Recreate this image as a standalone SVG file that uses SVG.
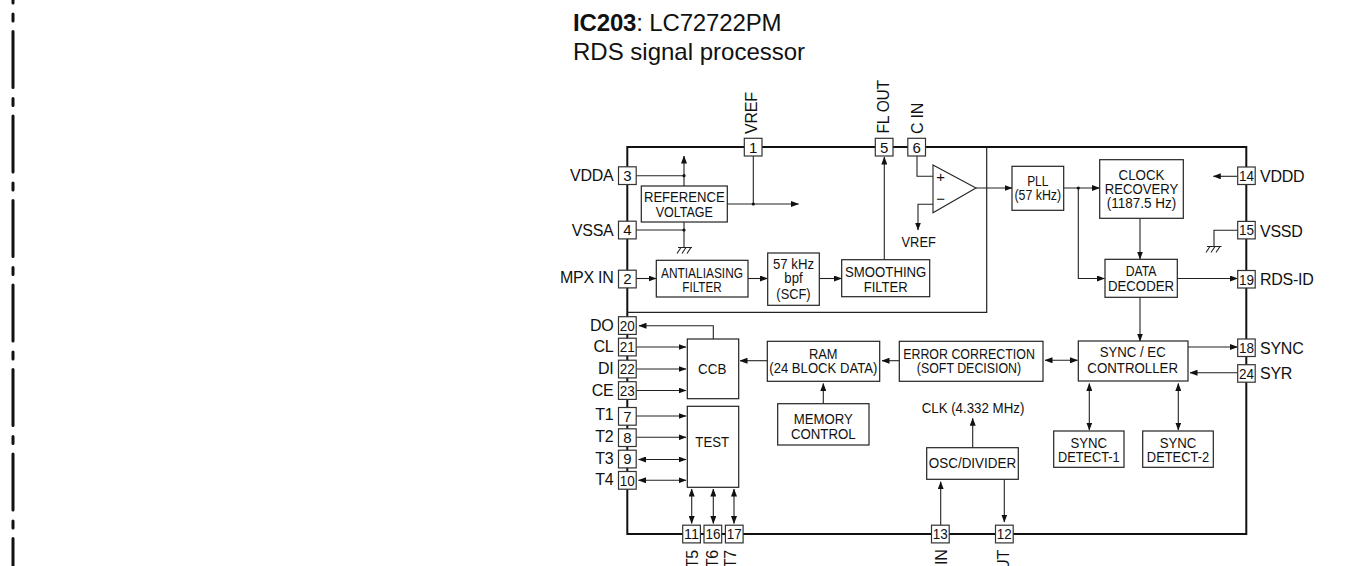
<svg xmlns="http://www.w3.org/2000/svg" width="1349" height="566" viewBox="0 0 1349 566">
<style>
text{font-family:"Liberation Sans",Arial,sans-serif;fill:#111}
.t{font-size:15px;text-anchor:middle}
.p{font-size:15px;text-anchor:middle}
.l{font-size:16px;letter-spacing:-.25px}
.e{text-anchor:end}
.title{font-size:24px}
.b{fill:#fff;stroke:#222;stroke-width:1.2}
.pin{fill:#fff;stroke:#333;stroke-width:1.2}
.c{fill:none;stroke:#222;stroke-width:1.1}
.a{marker-end:url(#ah)}
.d{marker-start:url(#ah);marker-end:url(#ah)}
.dot{fill:#111}
</style>
<defs>
<marker id="ah" markerUnits="userSpaceOnUse" markerWidth="8" markerHeight="6" refX="7.5" refY="3" orient="auto-start-reverse"><path d="M0,0L8,3L0,6z" fill="#111"/></marker>
</defs>
<path id="binding-line" d="M13,-53V566" fill="none" stroke="#111" stroke-width="3" stroke-linecap="round" stroke-dasharray="56 11 7 10.5"/>
<g id="title">
<text class="title" x="573" y="30.7" textLength="208.5"><tspan font-weight="bold">IC203</tspan>: LC72722PM</text>
<text class="title" x="573" y="60">RDS signal processor</text>
</g>
<g id="chip-frame">
<rect x="627.3" y="147" width="619" height="387" fill="none" stroke="#111" stroke-width="2"/>
<path d="M986.7,147V312.3H627.3" fill="none" stroke="#222" stroke-width="1.2"/>
</g>
<g id="connectors">
<path class="c" d="M636,175.7H684"/>
<path class="c a" d="M684,186V156"/>
<path class="c" d="M636,230H684"/>
<path class="c" d="M684,222V247.5"/>
<path class="c" d="M678,247.5H692M681,247.5L677,253.5M686,247.5L682,253.5M691,247.5L687,253.5"/>
<path class="c" d="M753.3,156V204"/>
<path class="c a" d="M727,204H798.5"/>
<path class="c a" d="M636,278.5H656"/>
<path class="c a" d="M748,278.5H767.5"/>
<path class="c a" d="M819.3,278.5H841.5"/>
<path class="c a" d="M884.3,259.7V157"/>
<path class="c" d="M917,156V176.3H933"/>
<path class="c a" d="M933,204.3H918V230"/>
<path class="c a" d="M976,188H1012"/>
<path class="c a" d="M1063.7,188H1099.5"/>
<path class="c a" d="M1078.3,188V278.5H1104.5"/>
<path class="c a" d="M1140,218.3V259"/>
<path class="c a" d="M1177.3,278.5H1237.5"/>
<path class="c a" d="M1140,297.3V341"/>
<path class="c a" d="M1188,347H1237.5"/>
<path class="c a" d="M1237.5,372.7H1190"/>
<path class="c d" d="M1045,360.3H1077.5"/>
<path class="c a" d="M1237.5,176.3H1213.3"/>
<path class="c" d="M1237.5,230.3H1214V246.5"/>
<path class="c" d="M1207,246.5H1221.5M1210,246.5L1206,252.5M1215,246.5L1211,252.5M1220,246.5L1216,252.5"/>
<path class="c a" d="M713.3,339V325.7H639"/>
<path class="c a" d="M636.3,347H686"/>
<path class="c a" d="M636.3,369H686"/>
<path class="c a" d="M636.3,390.5H686"/>
<path class="c a" d="M636.3,416H686"/>
<path class="c a" d="M636.3,437.3H686"/>
<path class="c d" d="M638.5,459.5H686"/>
<path class="c d" d="M638.5,480.3H686"/>
<path class="c a" d="M767.3,360.7H740"/>
<path class="c a" d="M899.3,360.7H882"/>
<path class="c a" d="M823.3,403.7V383.5"/>
<path class="c d" d="M691.7,489V523.5"/>
<path class="c d" d="M713.3,489V523.5"/>
<path class="c d" d="M734,489V523.5"/>
<path class="c a" d="M940.7,525V481.7"/>
<path class="c a" d="M1004.3,479.3V522"/>
<path class="c a" d="M972.7,447.7V418.3"/>
<path class="c d" d="M1089.3,383.5V430"/>
<path class="c d" d="M1178.3,383.5V430"/>
<circle class="dot" cx="684" cy="175.7" r="1.6"/>
<circle class="dot" cx="684" cy="230" r="1.6"/>
<circle class="dot" cx="753.3" cy="204" r="1.6"/>
<circle class="dot" cx="1078.3" cy="188" r="1.6"/>
</g>
<g id="reference-voltage"><rect class="b" x="641.3" y="186" width="86" height="36"/><text class="t" x="684.3" y="202.3" textLength="80.7" lengthAdjust="spacingAndGlyphs">REFERENCE</text><text class="t" x="684.3" y="217.3" textLength="57.3" lengthAdjust="spacingAndGlyphs">VOLTAGE</text></g>
<g id="antialiasing-filter"><rect class="b" x="656.3" y="260.3" width="91.7" height="36.7"/><text class="t" x="702" y="277.7" textLength="82" lengthAdjust="spacingAndGlyphs">ANTIALIASING</text><text class="t" x="702" y="292" textLength="39.3" lengthAdjust="spacingAndGlyphs">FILTER</text></g>
<g id="bpf"><rect class="b" x="767.7" y="253" width="51.6" height="52.3"/><text class="t" x="793.5" y="269.3" textLength="41" lengthAdjust="spacingAndGlyphs">57 kHz</text><text class="t" x="793.5" y="283.3" textLength="18.3" lengthAdjust="spacingAndGlyphs">bpf</text><text class="t" x="793.5" y="298.5" textLength="34.3" lengthAdjust="spacingAndGlyphs">(SCF)</text></g>
<g id="smoothing-filter"><rect class="b" x="841.7" y="259.7" width="88" height="37"/><text class="t" x="885.7" y="277.3" textLength="81.3" lengthAdjust="spacingAndGlyphs">SMOOTHING</text><text class="t" x="885.7" y="292" textLength="44" lengthAdjust="spacingAndGlyphs">FILTER</text></g>
<g id="comparator"><path d="M933,165L976,188L933,212.7z" fill="#fff" stroke="#222" stroke-width="1.1"/><text class="t" x="940.7" y="182">+</text><text class="t" x="940.7" y="204">−</text></g>
<g id="vref-label"><text class="t" x="918.7" y="246.7" textLength="34.3" lengthAdjust="spacingAndGlyphs">VREF</text></g>
<g id="pll"><rect class="b" x="1012" y="166.3" width="51.7" height="44"/><text class="t" x="1037.8" y="185.7" textLength="21.3" lengthAdjust="spacingAndGlyphs">PLL</text><text class="t" x="1037.8" y="200" textLength="46.7" lengthAdjust="spacingAndGlyphs">(57 kHz)</text></g>
<g id="clock-recovery"><rect class="b" x="1099.7" y="159.7" width="83.6" height="58.6"/><text class="t" x="1141.5" y="179.7" textLength="46" lengthAdjust="spacingAndGlyphs">CLOCK</text><text class="t" x="1141.5" y="194" textLength="73.3" lengthAdjust="spacingAndGlyphs">RECOVERY</text><text class="t" x="1141.5" y="208.3" textLength="69.3" lengthAdjust="spacingAndGlyphs">(1187.5 Hz)</text></g>
<g id="data-decoder"><rect class="b" x="1105" y="259.3" width="72.3" height="38"/><text class="t" x="1141" y="276" textLength="30.7" lengthAdjust="spacingAndGlyphs">DATA</text><text class="t" x="1141" y="291.3" textLength="66" lengthAdjust="spacingAndGlyphs">DECODER</text></g>
<g id="sync-ec-controller"><rect class="b" x="1078.3" y="341" width="109.7" height="40"/><text class="t" x="1132.7" y="357" textLength="66" lengthAdjust="spacingAndGlyphs">SYNC / EC</text><text class="t" x="1132.7" y="373" textLength="90.7" lengthAdjust="spacingAndGlyphs">CONTROLLER</text></g>
<g id="error-correction"><rect class="b" x="899.3" y="341.3" width="143.7" height="40"/><text class="t" x="969" y="359" textLength="131.7" lengthAdjust="spacingAndGlyphs">ERROR CORRECTION</text><text class="t" x="969" y="373.3" textLength="104.3" lengthAdjust="spacingAndGlyphs">(SOFT DECISION)</text></g>
<g id="ram"><rect class="b" x="767.3" y="341.3" width="112.4" height="40"/><text class="t" x="823.3" y="359" textLength="28.7" lengthAdjust="spacingAndGlyphs">RAM</text><text class="t" x="823.3" y="373.3" textLength="108" lengthAdjust="spacingAndGlyphs">(24 BLOCK DATA)</text></g>
<g id="ccb"><rect class="b" x="687.3" y="339" width="51.4" height="59.7"/><text class="t" x="712.2" y="374.3" textLength="28.3" lengthAdjust="spacingAndGlyphs">CCB</text></g>
<g id="test"><rect class="b" x="687.3" y="406.3" width="51.4" height="81"/><text class="t" x="712.2" y="447.3" textLength="33.7" lengthAdjust="spacingAndGlyphs">TEST</text></g>
<g id="memory-control"><rect class="b" x="777.7" y="403.7" width="91.3" height="41.3"/><text class="t" x="823.3" y="424" textLength="59" lengthAdjust="spacingAndGlyphs">MEMORY</text><text class="t" x="823.3" y="438.7" textLength="64.7" lengthAdjust="spacingAndGlyphs">CONTROL</text></g>
<g id="clk-label"><text class="t" x="973" y="412.7" textLength="102.7" lengthAdjust="spacingAndGlyphs">CLK (4.332 MHz)</text></g>
<g id="osc-divider"><rect class="b" x="926.7" y="447.7" width="91.6" height="31.6"/><text class="t" x="972.5" y="468" textLength="87.3" lengthAdjust="spacingAndGlyphs">OSC/DIVIDER</text></g>
<g id="sync-detect-1"><rect class="b" x="1053.7" y="431" width="70.3" height="36.3"/><text class="t" x="1088.8" y="447.7" textLength="36.7" lengthAdjust="spacingAndGlyphs">SYNC</text><text class="t" x="1088.8" y="461.7" textLength="61.7" lengthAdjust="spacingAndGlyphs">DETECT-1</text></g>
<g id="sync-detect-2"><rect class="b" x="1142.7" y="431" width="70.6" height="36.3"/><text class="t" x="1178" y="447.7" textLength="36.7" lengthAdjust="spacingAndGlyphs">SYNC</text><text class="t" x="1178" y="461.7" textLength="62.3" lengthAdjust="spacingAndGlyphs">DETECT-2</text></g>
<g id="pin-1"><rect class="pin" x="744.3" y="138.3" width="17.7" height="17.7"/><text class="p" x="753.2" y="152.5">1</text><text class="l" transform="translate(757.3 134) rotate(-90)">VREF</text></g>
<g id="pin-5"><rect class="pin" x="875.3" y="138.3" width="17.7" height="17.7"/><text class="p" x="884.2" y="152.5">5</text><text class="l" transform="translate(889.3 133.5) rotate(-90)" textLength="53.3" lengthAdjust="spacingAndGlyphs">FL OUT</text></g>
<g id="pin-6"><rect class="pin" x="907.8" y="138.3" width="17.7" height="17.7"/><text class="p" x="916.7" y="152.5">6</text><text class="l" transform="translate(922.7 134) rotate(-90)">C IN</text></g>
<g id="pin-3"><rect class="pin" x="618.5" y="166.8" width="17.7" height="17.7"/><text class="p" x="627.3" y="181">3</text><text class="l e" x="613.5" y="181">VDDA</text></g>
<g id="pin-4"><rect class="pin" x="618.5" y="221.2" width="17.7" height="17.7"/><text class="p" x="627.3" y="235.4">4</text><text class="l e" x="613.5" y="235.7">VSSA</text></g>
<g id="pin-2"><rect class="pin" x="618.5" y="270.2" width="17.7" height="17.7"/><text class="p" x="627.3" y="284.4">2</text><text class="l e" x="613.5" y="283.3">MPX IN</text></g>
<g id="pin-20"><rect class="pin" x="618.5" y="316.7" width="17.7" height="17.7"/><text class="p" x="627.3" y="330.9" textLength="15" lengthAdjust="spacingAndGlyphs">20</text><text class="l e" x="613.5" y="330.7">DO</text></g>
<g id="pin-21"><rect class="pin" x="618.5" y="338.2" width="17.7" height="17.7"/><text class="p" x="627.3" y="352.4" textLength="15" lengthAdjust="spacingAndGlyphs">21</text><text class="l e" x="613.5" y="352.3">CL</text></g>
<g id="pin-22"><rect class="pin" x="618.5" y="360.2" width="17.7" height="17.7"/><text class="p" x="627.3" y="374.4" textLength="15" lengthAdjust="spacingAndGlyphs">22</text><text class="l e" x="613.5" y="374">DI</text></g>
<g id="pin-23"><rect class="pin" x="618.5" y="381.7" width="17.7" height="17.7"/><text class="p" x="627.3" y="395.9" textLength="15" lengthAdjust="spacingAndGlyphs">23</text><text class="l e" x="613.5" y="395.7">CE</text></g>
<g id="pin-7"><rect class="pin" x="618.5" y="407.5" width="17.7" height="17.7"/><text class="p" x="627.3" y="421.7">7</text><text class="l e" x="613.5" y="420">T1</text></g>
<g id="pin-8"><rect class="pin" x="618.5" y="428.8" width="17.7" height="17.7"/><text class="p" x="627.3" y="443">8</text><text class="l e" x="613.5" y="442">T2</text></g>
<g id="pin-9"><rect class="pin" x="618.5" y="450.2" width="17.7" height="17.7"/><text class="p" x="627.3" y="464.4">9</text><text class="l e" x="613.5" y="464">T3</text></g>
<g id="pin-10"><rect class="pin" x="618.5" y="471.5" width="17.7" height="17.7"/><text class="p" x="627.3" y="485.7" textLength="15" lengthAdjust="spacingAndGlyphs">10</text><text class="l e" x="613.5" y="485">T4</text></g>
<g id="pin-11"><rect class="pin" x="682.7" y="525.2" width="17.7" height="17.7"/><text class="p" x="691.5" y="539.4" textLength="15" lengthAdjust="spacingAndGlyphs">11</text><text class="l e" transform="translate(698 550) rotate(-90)">T5</text></g>
<g id="pin-16"><rect class="pin" x="704" y="525.2" width="17.7" height="17.7"/><text class="p" x="712.9" y="539.4" textLength="15" lengthAdjust="spacingAndGlyphs">16</text><text class="l e" transform="translate(717.5 550) rotate(-90)">T6</text></g>
<g id="pin-17"><rect class="pin" x="725.4" y="525.2" width="17.7" height="17.7"/><text class="p" x="734.3" y="539.4" textLength="15" lengthAdjust="spacingAndGlyphs">17</text><text class="l e" transform="translate(736 550) rotate(-90)">T7</text></g>
<g id="pin-13"><rect class="pin" x="931.5" y="525.2" width="17.7" height="17.7"/><text class="p" x="940.3" y="539.4" textLength="15" lengthAdjust="spacingAndGlyphs">13</text><text class="l e" transform="translate(946.7 549.5) rotate(-90)">IN</text></g>
<g id="pin-12"><rect class="pin" x="995.5" y="525.2" width="17.7" height="17.7"/><text class="p" x="1004.3" y="539.4" textLength="15" lengthAdjust="spacingAndGlyphs">12</text><text class="l e" transform="translate(1009.3 550) rotate(-90)">OUT</text></g>
<g id="pin-14"><rect class="pin" x="1237.7" y="167" width="17.5" height="17.5"/><text class="p" x="1246.4" y="181" textLength="15" lengthAdjust="spacingAndGlyphs">14</text><text class="l" x="1260" y="181.7">VDDD</text></g>
<g id="pin-15"><rect class="pin" x="1237.7" y="221.4" width="17.5" height="17.5"/><text class="p" x="1246.4" y="235.4" textLength="15" lengthAdjust="spacingAndGlyphs">15</text><text class="l" x="1260" y="236.7">VSSD</text></g>
<g id="pin-19"><rect class="pin" x="1237.7" y="270.5" width="17.5" height="17.5"/><text class="p" x="1246.4" y="284.5" textLength="15" lengthAdjust="spacingAndGlyphs">19</text><text class="l" x="1260" y="285">RDS-ID</text></g>
<g id="pin-18"><rect class="pin" x="1237.7" y="339" width="17.5" height="17.5"/><text class="p" x="1246.4" y="353" textLength="15" lengthAdjust="spacingAndGlyphs">18</text><text class="l" x="1260" y="354">SYNC</text></g>
<g id="pin-24"><rect class="pin" x="1237.7" y="364.7" width="17.5" height="17.5"/><text class="p" x="1246.4" y="378.7" textLength="15" lengthAdjust="spacingAndGlyphs">24</text><text class="l" x="1260" y="379">SYR</text></g>
</svg>
